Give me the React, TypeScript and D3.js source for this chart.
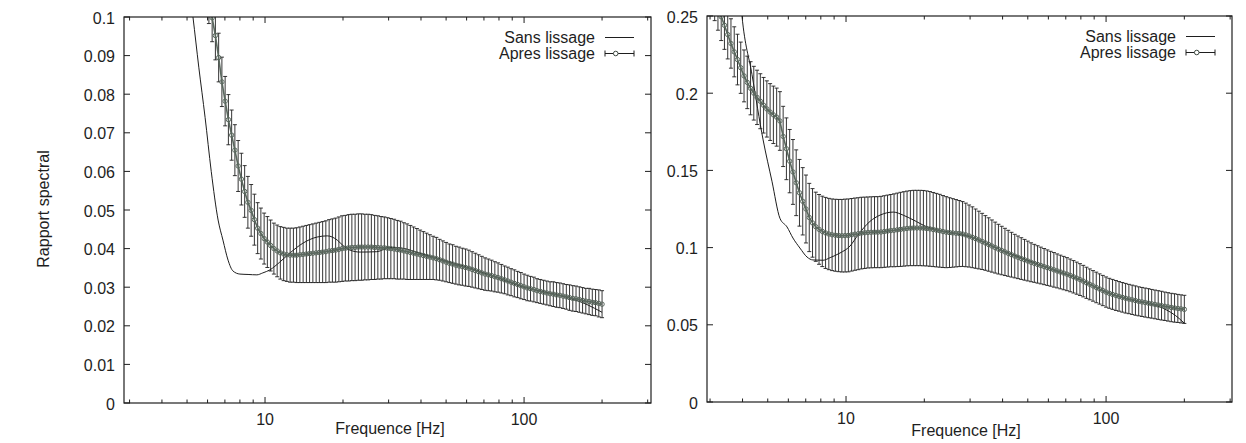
import React from "react";
import * as d3 from "d3";

// Frequency grid (Hz) of the smoothed series
const FREQ = [
  3.125, 3.217, 3.311, 3.408, 3.508, 3.61, 3.716, 3.825, 3.937, 4.053, 4.171, 4.294, 4.419, 4.549, 4.682, 4.819, 4.961, 5.106, 5.256, 5.41, 5.568, 5.731, 5.899, 6.072,
  6.25, 6.433, 6.622, 6.816, 7.015, 7.221, 7.433, 7.65, 7.875, 8.105, 8.343, 8.587, 8.839, 9.098, 9.365, 9.639, 9.921, 10.21, 10.51, 10.82, 11.14, 11.46, 11.8, 12.14,
  12.5, 12.87, 13.24, 13.63, 14.03, 14.44, 14.86, 15.3, 15.75, 16.21, 16.69, 17.17, 17.68, 18.2, 18.73, 19.28, 19.84, 20.42, 21.02, 21.64, 22.27, 22.93, 23.6, 24.29,
  25, 25.73, 26.49, 27.26, 28.06, 28.88, 29.73, 30.6, 31.5, 32.42, 33.37, 34.35, 35.36, 36.39, 37.46, 38.56, 39.69, 40.85, 42.04, 43.28, 44.55, 45.85, 47.19, 48.58,
  50, 51.47, 52.97, 54.53, 56.12, 57.77, 59.46, 61.2, 63.0, 64.84, 66.74, 68.7, 70.71, 72.78, 74.92, 77.11, 79.37, 81.7, 84.09, 86.55, 89.09, 91.7, 94.39, 97.15,
  100, 102.9, 105.9, 109.1, 112.2, 115.5, 118.9, 122.4, 126.0, 129.7, 133.5, 137.4, 141.4, 145.6, 149.8, 154.2, 158.7, 163.4, 168.2, 173.1, 178.2, 183.4, 188.8, 194.3,
  200,
];

// Left panel, smoothed ("Apres lissage"), from 6.072 Hz on
const LEFT_FREQ = FREQ.slice(23);
const LEFT_MEAN = [
  0.1045,
  0.0998, 0.0952, 0.0895, 0.0832, 0.0782, 0.0734, 0.0694, 0.0655, 0.0614, 0.058, 0.0548, 0.052, 0.0499, 0.0475, 0.0453, 0.0439, 0.0426, 0.0417, 0.0408, 0.04, 0.0394, 0.0389, 0.0386, 0.0384,
  0.0383, 0.0383, 0.0383, 0.0384, 0.0385, 0.0386, 0.0387, 0.0388, 0.0389, 0.039, 0.0391, 0.0392, 0.0394, 0.0395, 0.0396, 0.0398, 0.04, 0.0401, 0.0402, 0.0403, 0.0403, 0.0404, 0.0404, 0.0404,
  0.0404, 0.0404, 0.0403, 0.0403, 0.0402, 0.0402, 0.0401, 0.04, 0.0399, 0.0397, 0.0396, 0.0394, 0.0392, 0.039, 0.0388, 0.0386, 0.0384, 0.0382, 0.038, 0.0378, 0.0376, 0.0374, 0.0371, 0.0368,
  0.0365, 0.0362, 0.036, 0.0357, 0.0355, 0.0353, 0.0351, 0.0349, 0.0346, 0.0343, 0.034, 0.0337, 0.0334, 0.0332, 0.033, 0.0327, 0.0325, 0.0322, 0.0319, 0.0316, 0.0313, 0.031, 0.0307, 0.0304,
  0.0301, 0.0298, 0.0296, 0.0294, 0.0291, 0.0289, 0.0287, 0.0285, 0.0283, 0.0282, 0.028, 0.0279, 0.0277, 0.0275, 0.0273, 0.0271, 0.027, 0.0268, 0.0266, 0.0264, 0.0263, 0.0261, 0.026, 0.0258,
  0.0256,
];
const LEFT_ERR = [
  0.0062,
  0.0062, 0.0063, 0.0063, 0.0064, 0.0064, 0.0065, 0.0065, 0.0066, 0.0066, 0.0067, 0.0067, 0.0067, 0.0067, 0.0066, 0.0066, 0.0066, 0.0066, 0.0066, 0.0066, 0.0066, 0.0067, 0.0068, 0.0069, 0.0069,
  0.007, 0.007, 0.0071, 0.0072, 0.0073, 0.0074, 0.0075, 0.0076, 0.0077, 0.0078, 0.0079, 0.008, 0.0081, 0.0082, 0.0083, 0.0084, 0.0085, 0.0085, 0.0086, 0.0086, 0.0086, 0.0086, 0.0086, 0.0085,
  0.0085, 0.0084, 0.0083, 0.0082, 0.0081, 0.008, 0.0079, 0.0078, 0.0077, 0.0076, 0.0075, 0.0073, 0.0072, 0.007, 0.0068, 0.0066, 0.0064, 0.0062, 0.006, 0.0058, 0.0056, 0.0055, 0.0053, 0.0052,
  0.0051, 0.005, 0.005, 0.0049, 0.0049, 0.0048, 0.0048, 0.0047, 0.0046, 0.0045, 0.0044, 0.0043, 0.0042, 0.0041, 0.004, 0.0039, 0.0038, 0.0037, 0.0036, 0.0036, 0.0035, 0.0035, 0.0034, 0.0034,
  0.0033, 0.0033, 0.0032, 0.0032, 0.0031, 0.0031, 0.0031, 0.0031, 0.0031, 0.0032, 0.0032, 0.0032, 0.0032, 0.0032, 0.0033, 0.0033, 0.0033, 0.0033, 0.0033, 0.0033, 0.0034, 0.0034, 0.0034, 0.0035,
  0.0035,
];

// Left panel, raw ("Sans lissage")
const LEFT_RAW_FREQ = [5.0, 5.27, 5.55, 5.87, 6.2, 6.59, 6.88, 7.2, 7.52, 8.0, 8.6, 9.3, 9.8, 10.45, 11.4, 12.5, 14.0, 15.9, 17.4, 19.0, 20.0, 21.3, 23.3, 27.0, 30.4, 33.2, 39.7, 50, 60, 75, 100, 125, 150, 175, 200];
const LEFT_RAW = [0.112, 0.1, 0.087, 0.074, 0.06, 0.0474, 0.0422, 0.037, 0.0342, 0.0334, 0.0333, 0.0332, 0.0337, 0.0345, 0.0365, 0.0389, 0.0414, 0.043, 0.0433, 0.0422, 0.0408, 0.0396, 0.0391, 0.0392, 0.0403, 0.0402, 0.0388, 0.0368, 0.0352, 0.033, 0.03, 0.0285, 0.0272, 0.0255, 0.0235];

// Right panel, smoothed ("Apres lissage")
const RIGHT_MEAN = [
  0.262, 0.256, 0.2495, 0.244, 0.238, 0.2322, 0.2268, 0.2218, 0.2165, 0.2112, 0.207, 0.2032, 0.2, 0.1973, 0.1948, 0.1922, 0.1898, 0.1878, 0.186, 0.1845, 0.182, 0.172, 0.164, 0.156,
  0.149, 0.142, 0.1355, 0.13, 0.125, 0.1195, 0.116, 0.1135, 0.1118, 0.1105, 0.1095, 0.1088, 0.1083, 0.108, 0.1078, 0.1077, 0.1078, 0.1079, 0.1083, 0.1087, 0.109, 0.1094, 0.1096, 0.1098,
  0.1099, 0.11, 0.11, 0.1101, 0.1104, 0.1107, 0.111, 0.1112, 0.1115, 0.1118, 0.1121, 0.1124, 0.1126, 0.1127, 0.1127, 0.1127, 0.1126, 0.1124, 0.1121, 0.1117, 0.1113, 0.1109, 0.1104, 0.11,
  0.1097, 0.1095, 0.1093, 0.1091, 0.1088, 0.1082, 0.1075, 0.1067, 0.1058, 0.1049, 0.104, 0.103, 0.102, 0.101, 0.1, 0.099, 0.0981, 0.0972, 0.0963, 0.0954, 0.0945, 0.0937, 0.0929, 0.0921,
  0.0913, 0.0905, 0.0898, 0.0891, 0.0884, 0.0877, 0.087, 0.0863, 0.0856, 0.0849, 0.0842, 0.0835, 0.0828, 0.082, 0.0811, 0.0802, 0.0793, 0.0783, 0.0772, 0.0762, 0.0752, 0.0742, 0.0732, 0.0722,
  0.0712, 0.0704, 0.0697, 0.069, 0.0684, 0.0678, 0.0672, 0.0667, 0.0662, 0.0657, 0.0652, 0.0648, 0.0644, 0.064, 0.0636, 0.0632, 0.0628, 0.0624, 0.062, 0.0616, 0.0612, 0.0609, 0.0606, 0.0603,
  0.06,
];
const RIGHT_ERR = [
  0.015, 0.0152, 0.0154, 0.0156, 0.0158, 0.016, 0.0162, 0.0164, 0.0166, 0.0168, 0.017, 0.0172, 0.0174, 0.0176, 0.0178, 0.018, 0.0182, 0.0184, 0.0186, 0.0188, 0.019, 0.0195, 0.02, 0.0205,
  0.021, 0.0213, 0.0216, 0.0218, 0.022, 0.0221, 0.0222, 0.0224, 0.0226, 0.0228, 0.023, 0.0231, 0.0232, 0.0233, 0.0234, 0.0235, 0.0236, 0.0236, 0.0235, 0.0234, 0.0233, 0.0232, 0.0231, 0.023,
  0.023, 0.023, 0.023, 0.0231, 0.0232, 0.0233, 0.0234, 0.0236, 0.0238, 0.024, 0.0241, 0.0242, 0.0243, 0.0244, 0.0244, 0.0244, 0.0244, 0.0243, 0.0242, 0.024, 0.0238, 0.0236, 0.0233, 0.023,
  0.0226, 0.0222, 0.0218, 0.0214, 0.021, 0.0206, 0.0201, 0.0197, 0.0192, 0.0187, 0.0182, 0.0177, 0.0173, 0.0169, 0.0165, 0.0161, 0.0157, 0.0153, 0.0149, 0.0145, 0.0141, 0.0138, 0.0135, 0.0132,
  0.0129, 0.0126, 0.0123, 0.0121, 0.0119, 0.0117, 0.0115, 0.0113, 0.0112, 0.011, 0.0109, 0.0108, 0.0107, 0.0106, 0.0105, 0.0104, 0.0103, 0.0102, 0.0101, 0.01, 0.0099, 0.0099, 0.0098, 0.0098,
  0.0098, 0.0097, 0.0097, 0.0097, 0.0096, 0.0096, 0.0096, 0.0095, 0.0095, 0.0095, 0.0094, 0.0094, 0.0094, 0.0094, 0.0093, 0.0093, 0.0093, 0.0093, 0.0092, 0.0092, 0.0092, 0.0092, 0.0091, 0.0091,
  0.0091,
];

// Right panel, raw ("Sans lissage")
const RIGHT_RAW_FREQ = [3.8, 3.98, 4.35, 4.8, 5.19, 5.57, 5.93, 6.25, 6.65, 7.08, 7.46, 8.16, 8.69, 9.48, 10.36, 11.1, 12.37, 13.5, 15.2, 16.6, 18.1, 20.5, 22.4, 25.1, 30, 40, 60, 80, 100, 130, 150, 170, 185, 200];
const RIGHT_RAW = [0.29, 0.25, 0.212, 0.1697, 0.143, 0.119, 0.1134, 0.1062, 0.0997, 0.0939, 0.092, 0.0918, 0.0935, 0.0965, 0.101, 0.108, 0.117, 0.121, 0.123, 0.121, 0.118, 0.1134, 0.1114, 0.1098, 0.107, 0.098, 0.0868, 0.079, 0.0712, 0.0655, 0.0634, 0.0598, 0.056, 0.051];

// Axis ticks and texts
const LEFT_YTICKS = [0, 0.01, 0.02, 0.03, 0.04, 0.05, 0.06, 0.07, 0.08, 0.09, 0.1];
const RIGHT_YTICKS = [0, 0.05, 0.1, 0.15, 0.2, 0.25];
const X_MAJOR = [10, 100];
const X_MINOR = [3, 4, 5, 6, 7, 8, 9, 20, 30, 40, 50, 60, 70, 80, 90, 200, 300];
const LEGEND = ["Sans lissage", "Apres lissage"];
const X_TITLE = "Frequence [Hz]";
const Y_TITLE = "Rapport spectral";

const FONT = "'Liberation Sans', Arial, Helvetica, sans-serif";
const INK = "#1e1e1e";
const MARK = "#5a685e";

type PanelProps = {
  id: string;
  x0: number; x1: number; y0: number; y1: number;
  xDomain: [number, number];
  yDomain: [number, number];
  yTicks: number[];
  freq: number[]; mean: number[]; err: number[];
  rawF: number[]; raw: number[];
  xTitleX: number; xTitleY: number; xTickY: number;
};

function Panel(p: PanelProps) {
  const xs = d3.scaleLog().domain(p.xDomain).range([p.x0, p.x1]);
  const ys = d3.scaleLinear().domain(p.yDomain).range([p.y1, p.y0]);
  const cap = 2;

  let bars = "";
  p.freq.forEach((f, i) => {
    const x = xs(f);
    const yt = ys(p.mean[i] + p.err[i]);
    const yb = ys(p.mean[i] - p.err[i]);
    bars += `M${x},${yt}V${yb}M${x - cap},${yt}H${x + cap}M${x - cap},${yb}H${x + cap}`;
  });

  const meanLine = d3.line<number>().x((_, i) => xs(p.freq[i])).y((d) => ys(d))(p.mean) || "";
  const rawLine =
    d3
      .line<number>()
      .x((_, i) => xs(p.rawF[i]))
      .y((d) => ys(d))
      .curve(d3.curveMonotoneX)(p.raw) || "";

  const W = p.x1 - p.x0;
  const H = p.y1 - p.y0;
  const clip = `clip-${p.id}`;

  let ticks = "";
  p.yTicks.forEach((t) => {
    const y = ys(t);
    ticks += `M${p.x0},${y}h6M${p.x1},${y}h-6`;
  });
  X_MAJOR.forEach((t) => {
    const x = xs(t);
    ticks += `M${x},${p.y1}v-6M${x},${p.y0}v6`;
  });
  X_MINOR.forEach((t) => {
    const x = xs(t);
    if (x > p.x0 + 0.5 && x < p.x1 - 0.5) ticks += `M${x},${p.y1}v-3.5M${x},${p.y0}v3.5`;
  });

  const legEnd = p.x1 - 56;
  const sx0 = p.x1 - 46;
  const sx1 = p.x1 - 17;
  const ly1 = p.y0 + 20.5;
  const ly2 = p.y0 + 36.5;

  return (
    <g>
      <defs>
        <clipPath id={clip}>
          <rect x={p.x0} y={p.y0} width={W} height={H} />
        </clipPath>
      </defs>
      <g clipPath={`url(#${clip})`}>
        <path d={bars} fill="none" stroke={INK} strokeWidth={0.9} />
        <path d={rawLine} fill="none" stroke={INK} strokeWidth={1} />
        <path d={meanLine} fill="none" stroke={MARK} strokeWidth={1.6} />
        {p.freq.map((f, i) => (
          <circle key={i} cx={xs(f)} cy={ys(p.mean[i])} r={2.2} fill="none" stroke={MARK} strokeWidth={1} />
        ))}
      </g>
      <rect x={p.x0} y={p.y0} width={W} height={H} fill="none" stroke={INK} strokeWidth={1.2} />
      <path d={ticks} fill="none" stroke={INK} strokeWidth={1} />
      {p.yTicks.map((t) => (
        <text key={t} x={p.x0 - 9} y={ys(t) + 6.5} textAnchor="end" fontFamily={FONT} fontSize={16} fill={INK}>
          {String(+t.toFixed(2))}
        </text>
      ))}
      {X_MAJOR.map((t) => (
        <text key={t} x={xs(t)} y={p.xTickY} textAnchor="middle" fontFamily={FONT} fontSize={16} fill={INK}>
          {String(t)}
        </text>
      ))}
      <text x={p.xTitleX} y={p.xTitleY} textAnchor="middle" fontFamily={FONT} fontSize={16} fill={INK}>
        {X_TITLE}
      </text>
      {/* legend */}
      <text x={legEnd} y={ly1 + 5.5} textAnchor="end" fontFamily={FONT} fontSize={16} fill={INK}>
        {LEGEND[0]}
      </text>
      <text x={legEnd} y={ly2 + 5.5} textAnchor="end" fontFamily={FONT} fontSize={16} fill={INK}>
        {LEGEND[1]}
      </text>
      <path d={`M${sx0},${ly1}H${sx1}`} stroke={INK} strokeWidth={1} fill="none" />
      <path
        d={`M${sx0},${ly2}H${sx1}M${sx0},${ly2 - 3}v6M${sx1},${ly2 - 3}v6`}
        stroke={INK}
        strokeWidth={1}
        fill="none"
      />
      <circle cx={sx0 + (sx1 - sx0) * 0.37} cy={ly2} r={2.3} fill="#fff" stroke="#3e4a42" strokeWidth={1} />
    </g>
  );
}

export default function App() {
  return (
    <svg
      width={1246}
      height={443}
      viewBox="0 0 1246 443"
      style={{ position: "absolute", left: 0, top: 0, background: "#fff" }}
    >
      <rect x={0} y={0} width={1246} height={443} fill="#fff" />
      <text
        transform="translate(48.5,209) rotate(-90)"
        textAnchor="middle"
        fontFamily={FONT}
        fontSize={16}
        fill={INK}
      >
        {Y_TITLE}
      </text>
      <Panel
        id="left"
        x0={124}
        x1={651}
        y0={17}
        y1={403}
        xDomain={[2.855, 309]}
        yDomain={[0, 0.1]}
        yTicks={LEFT_YTICKS}
        freq={LEFT_FREQ}
        mean={LEFT_MEAN}
        err={LEFT_ERR}
        rawF={LEFT_RAW_FREQ}
        raw={LEFT_RAW}
        xTitleX={390}
        xTitleY={434}
        xTickY={425}
      />
      <Panel
        id="right"
        x0={707}
        x1={1232}
        y0={16}
        y1={402}
        xDomain={[2.92, 305]}
        yDomain={[0, 0.25]}
        yTicks={RIGHT_YTICKS}
        freq={FREQ}
        mean={RIGHT_MEAN}
        err={RIGHT_ERR}
        rawF={RIGHT_RAW_FREQ}
        raw={RIGHT_RAW}
        xTitleX={966}
        xTitleY={436}
        xTickY={423.5}
      />
    </svg>
  );
}
